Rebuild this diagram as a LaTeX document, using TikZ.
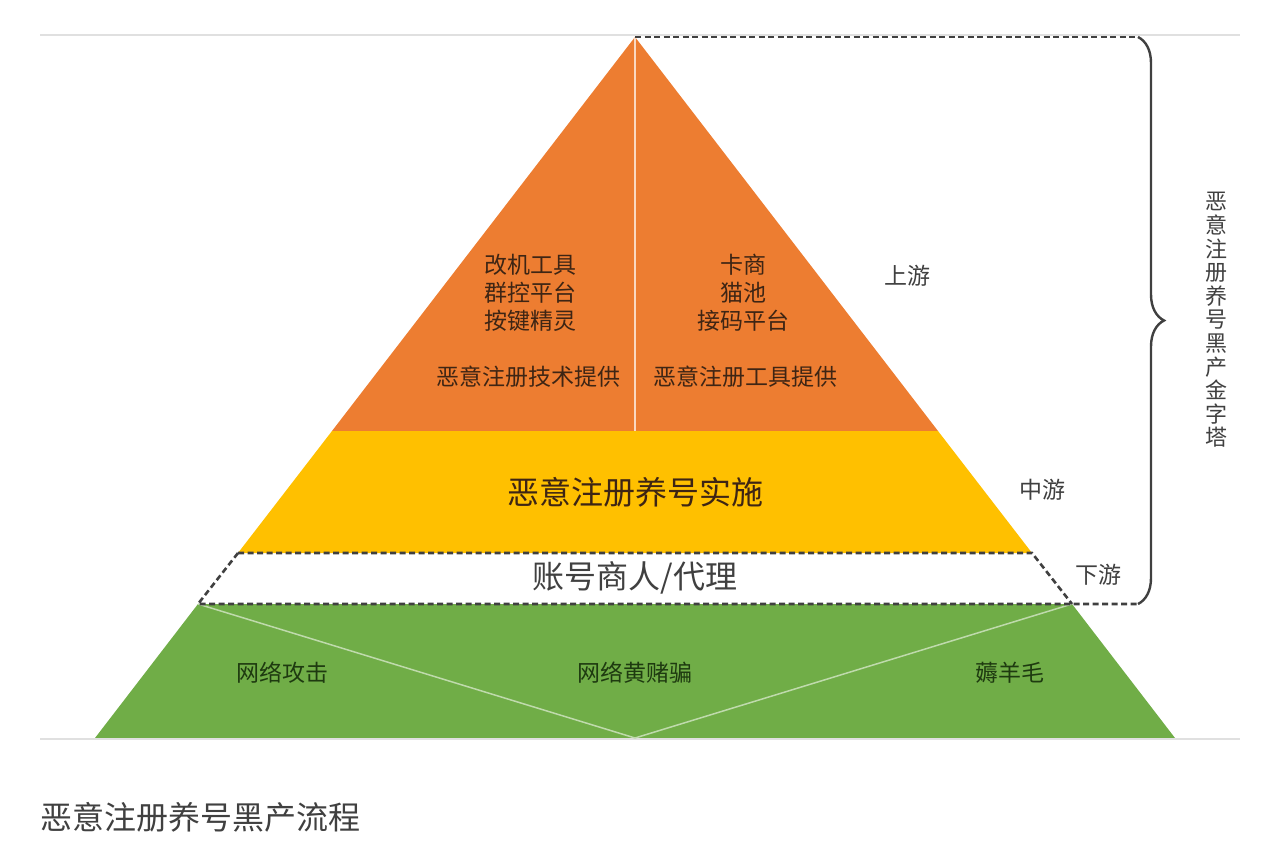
\documentclass[tikz,border=0pt]{standalone}
\usepackage{fontspec}
\setmainfont{Noto Sans CJK SC}
\usetikzlibrary{decorations.pathreplacing}
\definecolor{upfill}{HTML}{ED7D31}
\definecolor{midfill}{HTML}{FFC000}
\definecolor{lowfill}{HTML}{70AD47}
\definecolor{upink}{HTML}{3E2514}
\definecolor{lowink}{HTML}{1E3A10}
\definecolor{sideink}{HTML}{404040}
\begin{document}
\begin{tikzpicture}[x=1pt, y=-1pt,
    rule/.style={line width=1.5pt, draw=black!12},
    cut/.style={dash pattern=on 6pt off 3.5pt, line width=2.6pt, draw=black!75},
    small/.style={font=\fontsize{23}{28}\selectfont, align=center, inner sep=0pt},
    big/.style={font=\fontsize{32}{36}\selectfont, inner sep=0pt}]
  \useasboundingbox (0,0) rectangle (1285,850);
  % corners of the pyramid
  \coordinate (apex) at (635,37);
  \coordinate (ol) at (332,431); \coordinate (or) at (938,431);
  \coordinate (yl) at (238,553); \coordinate (yr) at (1032,553);
  \coordinate (gl) at (198,604); \coordinate (gr) at (1072,604);
  \coordinate (bl) at (95,738);  \coordinate (br) at (1175,738);
  \coordinate (om) at (635,431); \coordinate (bm) at (635,738);
  \coordinate (bt) at (1138,37); \coordinate (bb) at (1138,604);
  \draw [rule] (40,35) -- (1240,35);
  \fill [upfill] (apex) -- (or) -- (ol) -- cycle;
  \fill [midfill] (ol) -- (or) -- (yr) -- (yl) -- cycle;
  \fill [lowfill] (gl) -- (gr) -- (br) -- (bl) -- cycle;
  \draw [rule] (40,739) -- (1240,739);
  \draw [white!70!upfill, line width=1.2pt] (apex) -- (om);
  \draw [white!55!lowfill, line width=1.5pt] (gl) -- (bm) -- (gr);
  \draw [cut] (apex) -- (bt);
  \draw [cut] (yl) -- (yr) -- (gr);
  \draw [cut] (yl) -- (gl) -- (bb);
  \draw [sideink, line width=2.4pt, decorate,
    decoration={brace, amplitude=26pt, aspect=0.5}] (bt) -- (bb);
  % upstream
  \node [small, text=upink] (toolsL) at (530,293) {改机工具\\群控平台\\按键精灵};
  \node [small, text=upink] (techL) at (528,377) {恶意注册技术提供};
  \node [small, text=upink] (toolsR) at (743,293) {卡商\\猫池\\接码平台};
  \node [small, text=upink] (techR) at (745,377) {恶意注册工具提供};
  % mid and downstream
  \node [big, text=upink] (farm) at (635,492) {恶意注册养号实施};
  \node [big, text=sideink] (dealer) at (635,578) {账号商人/代理};
  \node [small, text=lowink] (attack) at (282,673) {网络攻击};
  \node [small, text=lowink] (fraud) at (635,673) {网络黄赌骗};
  \node [small, text=lowink] (wool) at (1010,673) {薅羊毛};
  % side labels
  \node [small, text=sideink] (up) at (907,276) {上游};
  \node [small, text=sideink] (mid) at (1042,490) {中游};
  \node [small, text=sideink] (down) at (1098,575) {下游};
  \node [small, text=sideink, font=\fontsize{22}{23.6}\selectfont] (title)
    at (1216,320) {恶\\意\\注\\册\\养\\号\\黑\\产\\金\\字\\塔};
  \node [big, text=sideink, anchor=west] (caption) at (40,817) {恶意注册养号黑产流程};
\end{tikzpicture}
\end{document}
